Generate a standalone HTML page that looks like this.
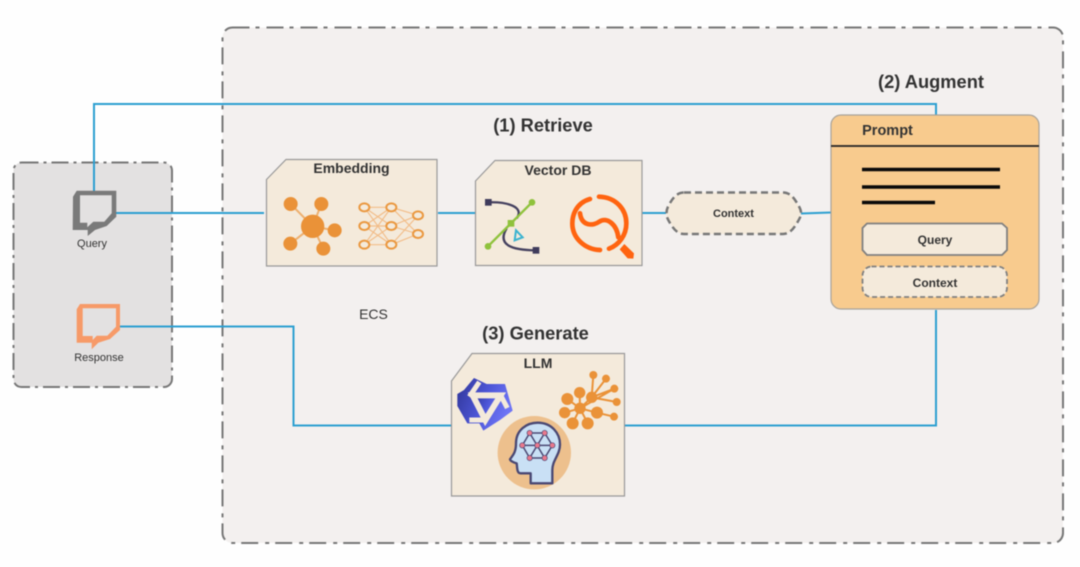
<!DOCTYPE html>
<html><head><meta charset="utf-8"><style>
html,body{margin:0;padding:0;width:1080px;height:567px;overflow:hidden;background:#fefefe}
svg{display:block;filter:blur(.5px)}
text{font-family:"Liberation Sans",sans-serif}
</style></head><body>
<svg width="1080" height="567" viewBox="0 0 1080 567" xmlns="http://www.w3.org/2000/svg">
<defs><linearGradient id="s" x1="0" x2="1" y1="0" y2=".4"><stop offset="0" stop-color="#2f3596"/><stop offset=".55" stop-color="#4c55d6"/><stop offset="1" stop-color="#6e74f5"/></linearGradient></defs>
<rect width="1080" height="567" fill="#fefefe"/>
<rect x="222.500" y="27.500" width="840.500" height="515.500" rx="10" fill="#f3f0ef" stroke="#777" stroke-width="2" stroke-dasharray="17 6 4 7"/>
<rect x="13.500" y="162.500" width="158.500" height="224.500" rx="8" fill="#e3e1e1" stroke="#777" stroke-width="2" stroke-dasharray="17 5 3 5"/>

<g fill="none" stroke="#2c9fd1" stroke-width="2">
<path d="M94 191V104H936V115"/>
<path d="M116 213H264"/><path d="M438 213H475"/><path d="M642 213H666"/><path d="M801 213.500L831 212.500"/>
<path d="M120 326.500H293.500V425.500H451"/>
<path d="M625 425.500H936V310"/>
</g>

<path fill-rule="evenodd" fill="#7a7a7a" d="M73 196.700L76.700 190.700H116.300V216.700L106.700 226L95 230L87.700 236V230H72.700ZM80 195.300V222.700H87.300V227.300L93.300 221.700H104.300L111.700 213.300V195.300Z"/>
<path fill-rule="evenodd" fill="#f79a68" d="M76.700 309.300L80 304H120V330L110 339L98.300 342.700L91.700 349.300V342.700H76.700ZM82.700 308.300V336H92.700V340L96.700 335.700H107.300L116 326.700V308.300Z"/>
<text x="92" y="247" font-size="11" fill="#333" text-anchor="middle">Query</text>
<text x="99" y="361" font-size="11" fill="#333" text-anchor="middle">Response</text>

<text x="543" y="131.500" font-size="18.300" font-weight="bold" fill="#333" text-anchor="middle">(1) Retrieve</text>
<text x="931" y="88" font-size="18.300" font-weight="bold" fill="#333" text-anchor="middle">(2) Augment</text>
<text x="535.500" y="339.500" font-size="18.300" font-weight="bold" fill="#333" text-anchor="middle">(3) Generate</text>
<text x="373.500" y="319" font-size="14" fill="#333" text-anchor="middle">ECS</text>

<!-- Embedding -->
<path d="M266.500 179.500L286 159.500H437V266H266.500Z" fill="#f4eadb" stroke="#999" stroke-width="1.200"/>
<text x="351.500" y="173" font-size="14" font-weight="bold" fill="#333" text-anchor="middle">Embedding</text>
<g transform="translate(260 150) scale(.33333)">
<g stroke="#ea9238" stroke-width="6" fill="#ea9238">
<path d="M158 229L92 162M158 229L184 162M158 229L224 241M158 229L91 281M158 229L190 296" stroke="#eeb070"/>
<circle cx="158" cy="229" r="32"/><circle cx="92" cy="162" r="18"/><circle cx="184" cy="162" r="18"/><circle cx="224" cy="241" r="18"/><circle cx="91" cy="281" r="18"/><circle cx="190" cy="296" r="18"/>
</g>
<g stroke="#f2bd89" stroke-width="3.500" fill="none">
<path d="M313 172L394 172M313 172L394 228M313 172L394 284M313 228L394 172M313 228L394 228M313 228L394 284M313 284L394 172M313 284L394 228M313 284L394 284M394 172L474 196M394 172L474 252M394 228L474 196M394 228L474 252M394 284L474 196M394 284L474 252"/>
</g>
<g stroke="#ea9840" stroke-width="6" fill="#f4eadb">
<ellipse cx="313" cy="172" rx="15" ry="12"/><ellipse cx="313" cy="228" rx="15" ry="12"/><ellipse cx="313" cy="284" rx="15" ry="12"/>
<ellipse cx="394" cy="172" rx="15" ry="12"/><ellipse cx="394" cy="228" rx="15" ry="12"/><ellipse cx="394" cy="284" rx="15" ry="12"/>
<ellipse cx="474" cy="196" rx="15" ry="12"/><ellipse cx="474" cy="252" rx="15" ry="12"/>
</g>
</g>

<!-- Vector DB -->
<path d="M475.500 181L495 160.500H642V265.500H475.500Z" fill="#f4eadb" stroke="#999" stroke-width="1.200"/>
<text x="558" y="175" font-size="14" font-weight="bold" fill="#333" text-anchor="middle">Vector DB</text>
<g transform="translate(465 150) scale(.33333)">
<path d="M70 157C125 155 180 170 155 205M125 235C95 285 140 300 213 301" fill="none" stroke="#45415f" stroke-width="7"/>
<rect x="60" y="147" width="20" height="20" fill="#3f3b5c"/><rect x="203" y="291" width="20" height="20" fill="#3f3b5c"/>
<path d="M69 289L201 157" stroke="#8fc23c" stroke-width="7"/>
<circle cx="69" cy="289" r="10" fill="#8fc23c"/><circle cx="201" cy="157" r="10" fill="#8fc23c"/><rect x="128" y="210" width="20" height="20" fill="#8fc23c"/>
<path d="M153 241L173 262L149 271Z" fill="none" stroke="#3ab3d0" stroke-width="6"/>
<g fill="none" stroke="#ff6410" stroke-width="14" stroke-linecap="round">
<path d="M375 147C330 160 322 200 322 220C322 265 360 298 405 300"/>
<path d="M402 140C455 142 484 180 484 220C484 255 462 285 432 296"/>
<path d="M345 190C350 230 385 228 403 215C425 200 455 222 460 262"/>
</g>
<path d="M478 282L507 310L505 326L488 325L464 298Z" fill="#ff6410"/>
</g>

<!-- Context -->
<path d="M684 192.500H783C790 192.500 794 198 797 203C800 208 801 210 801 213C801 216 800 218 797 223C794 228 790 234 783 234H684C677 234 673 228 670 223C667 218 666.500 216 666.500 213C666.500 210 667 208 670 203C673 198 677 192.500 684 192.500Z" fill="#f4eadb" stroke="#777" stroke-width="2.500" stroke-dasharray="7 4"/>
<text x="733.500" y="217" font-size="11" font-weight="bold" fill="#333" text-anchor="middle">Context</text>

<!-- Prompt -->
<rect x="831" y="115" width="208" height="194" rx="10" fill="#f8cb8e" stroke="#a8a39b" stroke-width="1.200"/>
<path d="M831 146H1039" stroke="#222" stroke-width="1.800"/>
<text x="887.500" y="135" font-size="14.500" font-weight="bold" fill="#333" text-anchor="middle">Prompt</text>
<path d="M862 169.500H1000M862 187H1000M862 202.500H935" stroke="#0a0a0a" stroke-width="3.500"/>
<path d="M867 223.500H1002L1007 228V250L1002 255H867L862.500 250V228Z" fill="#f4eadb" stroke="#808080" stroke-width="1.800"/>
<text x="935" y="244" font-size="12" font-weight="bold" fill="#333" text-anchor="middle">Query</text>
<rect x="862.500" y="266.500" width="144.500" height="30.500" rx="9" fill="#f4eadb" stroke="#808080" stroke-width="1.800" stroke-dasharray="5 3"/>
<text x="935" y="287" font-size="12" font-weight="bold" fill="#333" text-anchor="middle">Context</text>

<!-- LLM -->
<path d="M451.500 381L472 353.500H624.500V496H451.500Z" fill="#f4eadb" stroke="#999" stroke-width="1.200"/>
<text x="538" y="368" font-size="14" font-weight="bold" fill="#333" text-anchor="middle">LLM</text>
<g transform="translate(450 370) scale(.33333)">
<path d="M22 72L42 60L72 24L110 42H165L188 122L150 150L100 182L88 160H52L22 108Z" fill="url(#s)"/>
<path d="M68 76H152L106 150Z" fill="url(#s)" stroke="#f4eadb" stroke-width="18" stroke-linejoin="miter"/>
<path d="M88 36L58 80M58 150H106M152 76L172 114" fill="none" stroke="#f4eadb" stroke-width="15"/>
</g>
<circle cx="534.300" cy="452.700" r="36.700" fill="#edc08d"/>
<g transform="translate(490 410) scale(.33333)">
<path d="M78 100C78 60 110 38 143 38C185 38 210 70 210 103C210 135 187 150 187 180V220H122V190H92C80 190 82 172 80 160C72 158 60 152 60 148C66 138 78 130 78 100Z" fill="#c9e0f5" stroke="#4a4873" stroke-width="7" stroke-linejoin="round"/>
<g stroke="#4a4873" stroke-width="4.500" fill="none">
<path d="M119 69H164L187 106L164 144H119L97 106ZM97 106H187M119 69L164 144M164 69L119 144"/>
</g>
<g fill="#e8788c" stroke="#4a4873" stroke-width="2"><circle cx="119" cy="69" r="8"/><circle cx="164" cy="69" r="8"/><circle cx="97" cy="106" r="8"/><circle cx="142" cy="106" r="8"/><circle cx="187" cy="106" r="8"/><circle cx="119" cy="144" r="8"/><circle cx="164" cy="144" r="8"/></g>
</g>
<g transform="translate(445 345) scale(.33333)" fill="#ea9238" stroke="#ea9238">
<path d="M405 190L367 162M405 190L404 143M405 190L440 157M405 190L359 203M405 190L383 235M405 190L428 235M405 190L456 203M440 157L445 90M440 157L483 101M440 157L508 131M440 157L515 171M456 203L507 215M405 190L508 131" stroke-width="6" fill="none"/>
<g stroke="none"><circle cx="405" cy="190" r="17"/><circle cx="367" cy="162" r="18"/><circle cx="404" cy="143" r="17"/><circle cx="440" cy="157" r="17"/><circle cx="359" cy="203" r="17"/><circle cx="383" cy="235" r="18"/><circle cx="428" cy="235" r="18"/><circle cx="456" cy="203" r="18"/><circle cx="445" cy="90" r="12"/><circle cx="483" cy="101" r="12"/><circle cx="508" cy="131" r="12"/><circle cx="515" cy="171" r="12"/><circle cx="507" cy="215" r="12"/></g>
</g>
</svg>
</body></html>
